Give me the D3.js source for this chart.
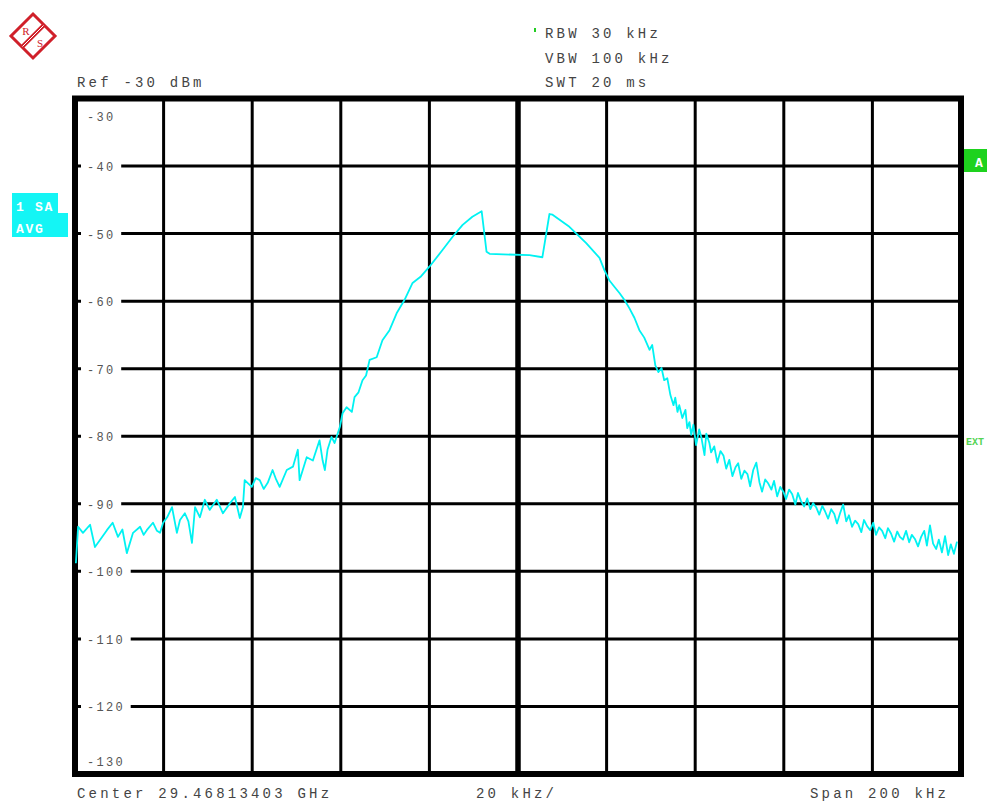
<!DOCTYPE html>
<html><head><meta charset="utf-8">
<script src="https://cdn.jsdelivr.net/npm/d3@7"></script>
<style>body{margin:0;background:#fff}svg{display:block}text{white-space:pre}</style>
</head><body><svg id="c" width="987" height="801"></svg>
<script>
// Frequency offset from center (kHz) and measured level (dBm)
const freqKHz = [
-99.8,-99.3,-98.2,-96.6,-95.5,-94.4,-92.8,-91.5,-90.3,-89.3,-88.3,-86.9,-85.3,-84.5,-83.8,-82.4,-81.5,-80.8,-80.1,-79.2,
-78.1,-77.0,-76.3,-75.2,-74.4,-73.6,-72.9,-71.8,-70.7,-69.6,-68.0,-66.6,-65.0,-63.9,-62.8,-62.1,-61.7,-60.1,-59.2,-58.3,
-57.4,-56.5,-55.4,-54.6,-53.8,-52.2,-50.8,-49.7,-49.3,-47.7,-46.3,-44.8,-44.1,-43.6,-43.0,-42.1,-41.4,-40.2,-39.6,-38.7,
-37.5,-36.9,-36.0,-35.1,-34.3,-33.5,-31.9,-30.6,-29.0,-27.4,-25.6,-23.8,-22.0,-20.0,-17.0,-14.8,-12.5,-10.3,-8.2,-7.1,
-6.4,2.6,5.5,7.1,7.8,11.6,15.4,
18.4,19.5,20.6,21.8,22.9,24.0,25.1,26.3,27.4,28.5,29.7,30.3,31.0,31.7,32.4,33.0,33.7,34.4,35.1,35.5,
36.0,36.4,37.1,37.8,38.2,38.7,39.1,39.6,
40.2,40.9,41.4,42.1,42.5,43.2,43.6,44.3,45.0,45.7,46.4,47.0,47.7,48.4,49.1,49.7,50.4,51.1,51.8,52.4,
53.1,53.8,54.5,55.1,55.8,56.5,57.2,57.8,58.5,59.2,59.9,60.5,61.2,61.9,62.6,63.2,63.9,64.6,65.3,66.0,
66.6,67.3,68.0,68.7,69.3,70.0,70.7,71.4,72.0,72.7,73.4,74.1,74.7,75.4,76.1,76.8,77.5,78.1,78.8,79.5,
80.2,80.8,81.5,82.2,82.9,83.5,84.2,84.9,85.6,86.2,86.9,87.6,88.3,88.9,89.6,90.3,91.0,91.7,92.3,93.0,
93.7,94.4,95.0,95.7,96.4,97.1,97.7,98.4,99.1
];
const levelDbm = [
-98.8,-93.4,-94.3,-93.1,-96.4,-95.4,-93.9,-92.8,-94.9,-93.8,-97.3,-94.3,-93.4,-94.6,-93.9,-92.8,-94.0,-94.3,-92.8,-92.0,
-90.5,-94.3,-92.4,-91.4,-92.6,-95.8,-90.5,-92.0,-89.4,-90.9,-89.4,-91.4,-89.9,-89.0,-92.1,-90.5,-86.5,-87.5,-86.2,-86.5,
-87.8,-86.9,-85.0,-86.4,-87.5,-85.0,-84.5,-82.0,-86.5,-83.1,-83.6,-80.6,-83.6,-85.0,-82.0,-80.1,-81.0,-78.6,-76.6,-75.7,
-76.4,-74.2,-73.5,-71.7,-71.0,-68.7,-68.3,-65.8,-64.3,-61.8,-59.8,-57.3,-56.4,-54.9,-52.4,-50.5,-48.7,-47.5,-46.7,-52.7,
-53.0,-53.2,-53.5,-47.1,-47.2,-49.0,-51.4,
-53.6,-55.4,-56.9,-57.9,-58.8,-59.8,-61.0,-62.5,-64.3,-65.4,-67.2,-66.5,-69.5,-70.5,-69.9,-71.7,-71.4,-73.9,-75.4,-74.3,
-76.4,-75.4,-77.3,-76.1,-78.8,-77.9,-79.8,-78.3,
-81.3,-79.0,-80.2,-82.8,-79.6,-81.0,-82.4,-81.5,-83.9,-82.2,-82.9,-84.8,-83.5,-85.9,-84.6,-84.0,-86.3,-85.1,-85.6,-87.4,
-85.0,-83.9,-86.8,-88.2,-86.4,-87.0,-87.9,-86.6,-88.9,-87.5,-88.2,-89.3,-87.9,-88.6,-90.1,-88.4,-89.6,-90.4,-89.2,-90.8,
-89.9,-90.5,-91.6,-90.3,-91.1,-92.2,-90.8,-91.5,-92.9,-91.4,-90.1,-92.6,-91.7,-93.4,-92.5,-93.0,-94.2,-92.4,-93.3,-93.9,
-92.8,-94.6,-93.5,-94.0,-95.1,-93.6,-94.4,-95.6,-94.1,-94.9,-95.3,-94.0,-95.7,-94.6,-95.2,-96.3,-94.9,-94.0,-96.2,-93.2,
-95.9,-96.7,-95.3,-97.2,-94.8,-97.6,-96.0,-97.4,-95.6
];
const yTickValues = [-30,-40,-50,-60,-70,-80,-90,-100,-110,-120,-130];
const yGridValues = [-40,-50,-60,-70,-80,-90,-100,-110,-120];
const xGridValues = [-80,-60,-40,-20,20,40,60,80];
const xCenterValue = [0];
const refText = "Ref -30 dBm";
const settingTexts = ["RBW 30 kHz","VBW 100 kHz","SWT 20 ms"];
const footerTexts = ["Center 29.46813403 GHz","20 kHz/","Span 200 kHz"];
const traceLabel = ["1 SA","AVG"];

const svg = d3.select("#c");
const x = d3.scaleLinear().domain([-100,100]).range([75,961]);
const y = d3.scaleLinear().domain([-30,-130]).range([98.5,774]);
const mono = "'Liberation Mono','DejaVu Sans Mono',monospace";

svg.append("rect").attr("width",987).attr("height",801).attr("fill","#fff");

// R&S logo
const logo = svg.append("g").attr("transform","translate(33,36)");
logo.append("path").attr("d","M0,-22 L22,0 L0,22 L-22,0 Z").attr("fill","none").attr("stroke","#d0202a").attr("stroke-width",3);
logo.append("line").attr("x1",11).attr("y1",-11).attr("x2",-11).attr("y2",11).attr("stroke","#d0202a").attr("stroke-width",4);
logo.append("line").attr("x1",10.5).attr("y1",-10.5).attr("x2",-10.5).attr("y2",10.5).attr("stroke","#fff").attr("stroke-width",1);
logo.append("text").attr("x",-7).attr("y",-1).attr("text-anchor","middle").attr("font-family","'Liberation Serif',serif").attr("font-size",11).attr("fill","#d0202a").text("R");
logo.append("text").attr("x",7).attr("y",11).attr("text-anchor","middle").attr("font-family","'Liberation Serif',serif").attr("font-size",11).attr("fill","#d0202a").text("S");

const txt = (s,xx,yy,opt={}) => svg.append("text").attr("x",xx).attr("y",yy)
  .attr("font-family",mono).attr("font-size",opt.size||14).attr("letter-spacing",opt.ls!=null?opt.ls:3.2)
  .attr("fill",opt.fill||"#444").attr("font-weight",opt.weight||"normal").text(s);

txt(refText,77,87);
settingTexts.forEach((s,i)=>txt(s,545,38+i*24.7));
svg.append("rect").attr("x",534).attr("y",28).attr("width",2).attr("height",4).attr("fill","#22cc22");

txt(footerTexts[0],77,798);
txt(footerTexts[1],476,798);
txt(footerTexts[2],810,798);

// Grid
svg.append("g").selectAll("line").data(yGridValues).join("line")
  .attr("x1",78).attr("x2",958).attr("y1",d=>y(d)).attr("y2",d=>y(d))
  .attr("stroke","#000").attr("stroke-width",3);
svg.append("g").selectAll("line").data(xGridValues).join("line")
  .attr("x1",d=>x(d)).attr("x2",d=>x(d)).attr("y1",y(-30)).attr("y2",y(-130))
  .attr("stroke","#000").attr("stroke-width",3);
svg.append("g").selectAll("line").data(xCenterValue).join("line")
  .attr("x1",d=>x(d)).attr("x2",d=>x(d)).attr("y1",y(-30)).attr("y2",y(-130))
  .attr("stroke","#000").attr("stroke-width",5.5);

// Y labels with white backing
const adv = 9.5;
yTickValues.forEach(v=>{
  const s = String(v);
  const w = s.length*adv - 2.3;
  let by;
  if (v===-30) by = 121; else if (v===-130) by = 766; else by = y(v)+5;
  if (v!==-30 && v!==-130) {
    svg.append("rect").attr("x",81).attr("y",y(v)-3).attr("width",87+w+8-81).attr("height",6).attr("fill","#fff");
  }
  txt(s,87,by,{size:12,ls:2.3,fill:"#555"});
});

// Frame
svg.append("rect").attr("x",x(-100)).attr("y",y(-30)).attr("width",x(100)-x(-100)).attr("height",y(-130)-y(-30))
  .attr("fill","none").attr("stroke","#000").attr("stroke-width",6);

// Trace
const pts = freqKHz.map((f,i)=>[f,levelDbm[i]]);
svg.append("path").datum(pts)
  .attr("d",d3.line().x(d=>x(d[0])).y(d=>y(d[1])))
  .attr("fill","none").attr("stroke","#00f2f2").attr("stroke-width",1.8).attr("stroke-linejoin","round");

// Trace label box
svg.append("path").attr("d","M12,193 H58 V213 H68 V237 H12 Z").attr("fill","#14f5f5");
txt(traceLabel[0],16,211,{size:13,ls:1.7,fill:"#fff",weight:"bold"});
txt(traceLabel[1],16,233,{size:13,ls:1.7,fill:"#fff",weight:"bold"});

// Right side markers
svg.append("rect").attr("x",964).attr("y",149).attr("width",23).attr("height",23).attr("fill","#1ed21e");
txt("A",975,167,{size:13,ls:0,fill:"#fff",weight:"bold"});
txt("EXT",966,445,{size:10,ls:0,fill:"#55d455",weight:"bold"});
</script></body></html>
